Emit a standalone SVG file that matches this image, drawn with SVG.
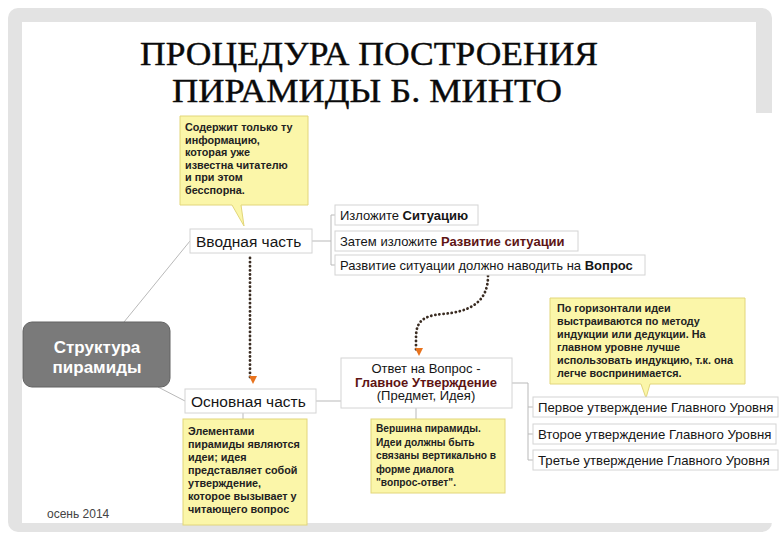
<svg xmlns="http://www.w3.org/2000/svg" width="780" height="540" viewBox="0 0 780 540">
<style>
.t{font-family:"Liberation Sans",Arial,sans-serif;fill:#151515}
.b{font-weight:bold}
.red{fill:#5e1414}
.box{fill:#fff;stroke:#d4d4d4;stroke-width:1}
.note{fill:#fbf6a9;stroke:#e2d67a;stroke-width:1}
.nt{font-family:"Liberation Sans",Arial,sans-serif;font-size:10.8px;font-weight:bold;fill:#222}
.ln{fill:none;stroke:#b9b9b9;stroke-width:1}
.dot{fill:none;stroke:#3a2c22;stroke-width:2.8;stroke-linecap:round;stroke-dasharray:0.1 4}
.ttl{font-family:"Liberation Serif","Times New Roman",serif;font-size:33px;fill:#0a0a0a;stroke:#0a0a0a;stroke-width:0.4}
</style>
<defs>
<marker id="arr" viewBox="0 0 10 10" refX="5" refY="8" markerWidth="10" markerHeight="10" markerUnits="userSpaceOnUse" orient="auto">
<path d="M1,1 L9,5 L1,9 Z" fill="#e8731e"/>
</marker>
</defs>
<rect x="0" y="0" width="780" height="540" fill="#fff"/>
<rect x="8" y="8" width="764" height="524" rx="10" fill="#e3e3e3"/>
<rect x="22" y="22" width="734" height="500" fill="#fff"/>
<rect x="22" y="113" width="758" height="410" fill="#fff"/>
<g id="title">
<text class="ttl" x="369" y="65" text-anchor="middle" textLength="458" lengthAdjust="spacingAndGlyphs">ПРОЦЕДУРА ПОСТРОЕНИЯ</text>
<text class="ttl" x="367" y="102" text-anchor="middle" textLength="390" lengthAdjust="spacingAndGlyphs">ПИРАМИДЫ Б. МИНТО</text>
</g>
<g id="connectors">
<path class="ln" d="M124,322 L190,241"/>
<path class="ln" d="M158,387 L185,401"/>
<path class="ln" d="M312,241 H331 M331,215 V265 M331,215 H335 M331,265 H335"/>
<path class="ln" d="M316,401 H341"/>
<path class="ln" d="M512,383 H528 V460 M528,407 H533 M528,434 H533 M528,460 H533"/>
<path class="ln" d="M243,413 V419"/>
<path class="ln" d="M416,408 V419"/>
<path class="dot" d="M250,258 V380" marker-end="url(#arr)"/>
<path class="dot" d="M488,276 C488,302 470,312 442,314 C422,316 416,322 416,338 L416,352" marker-end="url(#arr)"/>
</g>
<g id="note-intro">
<path class="note" d="M180,116 H308 V205 H241 L244,226 L232,205 H180 Z"/>
<text class="nt" x="185" y="131">Содержит только ту</text>
<text class="nt" x="185" y="143.5">информацию,</text>
<text class="nt" x="185" y="156">которая уже</text>
<text class="nt" x="185" y="168.5">известна читателю</text>
<text class="nt" x="185" y="181">и при этом</text>
<text class="nt" x="185" y="193.5">бесспорна.</text>
</g>
<g id="intro">
<rect class="box" x="190" y="229" width="122" height="24"/>
<text class="t" x="196" y="246.5" font-size="15.5">Вводная часть</text>
</g>
<g id="sit1">
<rect class="box" x="335" y="205" width="143" height="20"/>
<text class="t" x="340" y="219.5" font-size="13">Изложите <tspan class="b">Ситуацию</tspan></text>
</g>
<g id="sit2">
<rect class="box" x="335" y="231" width="243" height="20"/>
<text class="t" x="340" y="245.5" font-size="13">Затем изложите <tspan class="b red">Развитие ситуации</tspan></text>
</g>
<g id="sit3">
<rect class="box" x="335" y="255" width="310" height="20"/>
<text class="t" x="340" y="269.5" font-size="13">Развитие ситуации должно наводить на <tspan class="b">Вопрос</tspan></text>
</g>
<g id="structure">
<rect x="23" y="322" width="147" height="65" rx="9" fill="#7a7a7a" stroke="#626262"/>
<text x="97" y="353" text-anchor="middle" font-family="'Liberation Sans',Arial,sans-serif" font-size="17" font-weight="bold" fill="#fff">Структура</text>
<text x="97" y="373" text-anchor="middle" font-family="'Liberation Sans',Arial,sans-serif" font-size="17" font-weight="bold" fill="#fff">пирамиды</text>
</g>
<g id="main">
<rect class="box" x="185" y="389" width="131" height="24"/>
<text class="t" x="191" y="406.5" font-size="15.5">Основная часть</text>
</g>
<g id="note-main">
<rect class="note" x="183" y="419" width="124" height="106"/>
<text class="nt" x="188" y="435">Элементами</text>
<text class="nt" x="188" y="448">пирамиды являются</text>
<text class="nt" x="188" y="461">идеи; идея</text>
<text class="nt" x="188" y="474">представляет собой</text>
<text class="nt" x="188" y="487">утверждение,</text>
<text class="nt" x="188" y="500">которое вызывает у</text>
<text class="nt" x="188" y="513">читающего вопрос</text>
</g>
<g id="answer">
<rect class="box" x="341" y="358" width="171" height="50"/>
<text class="t" x="426" y="373" font-size="13" text-anchor="middle">Ответ на Вопрос -</text>
<text class="t b red" x="426" y="386.5" font-size="13" text-anchor="middle">Главное Утверждение</text>
<text class="t" x="426" y="400" font-size="13" text-anchor="middle">(Предмет, Идея)</text>
</g>
<g id="note-top">
<rect class="note" x="371" y="419" width="134" height="74"/>
<text class="nt" x="376" y="432" style="font-size:10.2px">Вершина пирамиды.</text>
<text class="nt" x="376" y="445.5" style="font-size:10.2px">Идеи должны быть</text>
<text class="nt" x="376" y="459" style="font-size:10.2px">связаны вертикально в</text>
<text class="nt" x="376" y="472.5" style="font-size:10.2px">форме диалога</text>
<text class="nt" x="376" y="486" style="font-size:10.2px">"вопрос-ответ".</text>
</g>
<g id="note-horizontal">
<path class="note" d="M550,298 H745 V384 H650 L646,398 L641,384 H550 Z"/>
<text class="nt" x="557" y="312">По горизонтали идеи</text>
<text class="nt" x="557" y="325">выстраиваются по методу</text>
<text class="nt" x="557" y="338">индукции или дедукции. На</text>
<text class="nt" x="557" y="351">главном уровне лучше</text>
<text class="nt" x="557" y="364">использовать индукцию, т.к. она</text>
<text class="nt" x="557" y="377">легче воспринимается.</text>
</g>
<g id="level1">
<rect class="box" x="533" y="397" width="245" height="20"/>
<text class="t" x="538" y="411.5" font-size="13.2">Первое утверждение Главного Уровня</text>
</g>
<g id="level2">
<rect class="box" x="533" y="424" width="243" height="20"/>
<text class="t" x="538" y="438.5" font-size="13.2">Второе утверждение Главного Уровня</text>
</g>
<g id="level3">
<rect class="box" x="533" y="450" width="245" height="20"/>
<text class="t" x="538" y="464.5" font-size="13.2">Третье утверждение Главного Уровня</text>
</g>
<g id="footer">
<text class="t" x="47" y="518" font-size="12" style="fill:#444">осень 2014</text>
</g>
</svg>
